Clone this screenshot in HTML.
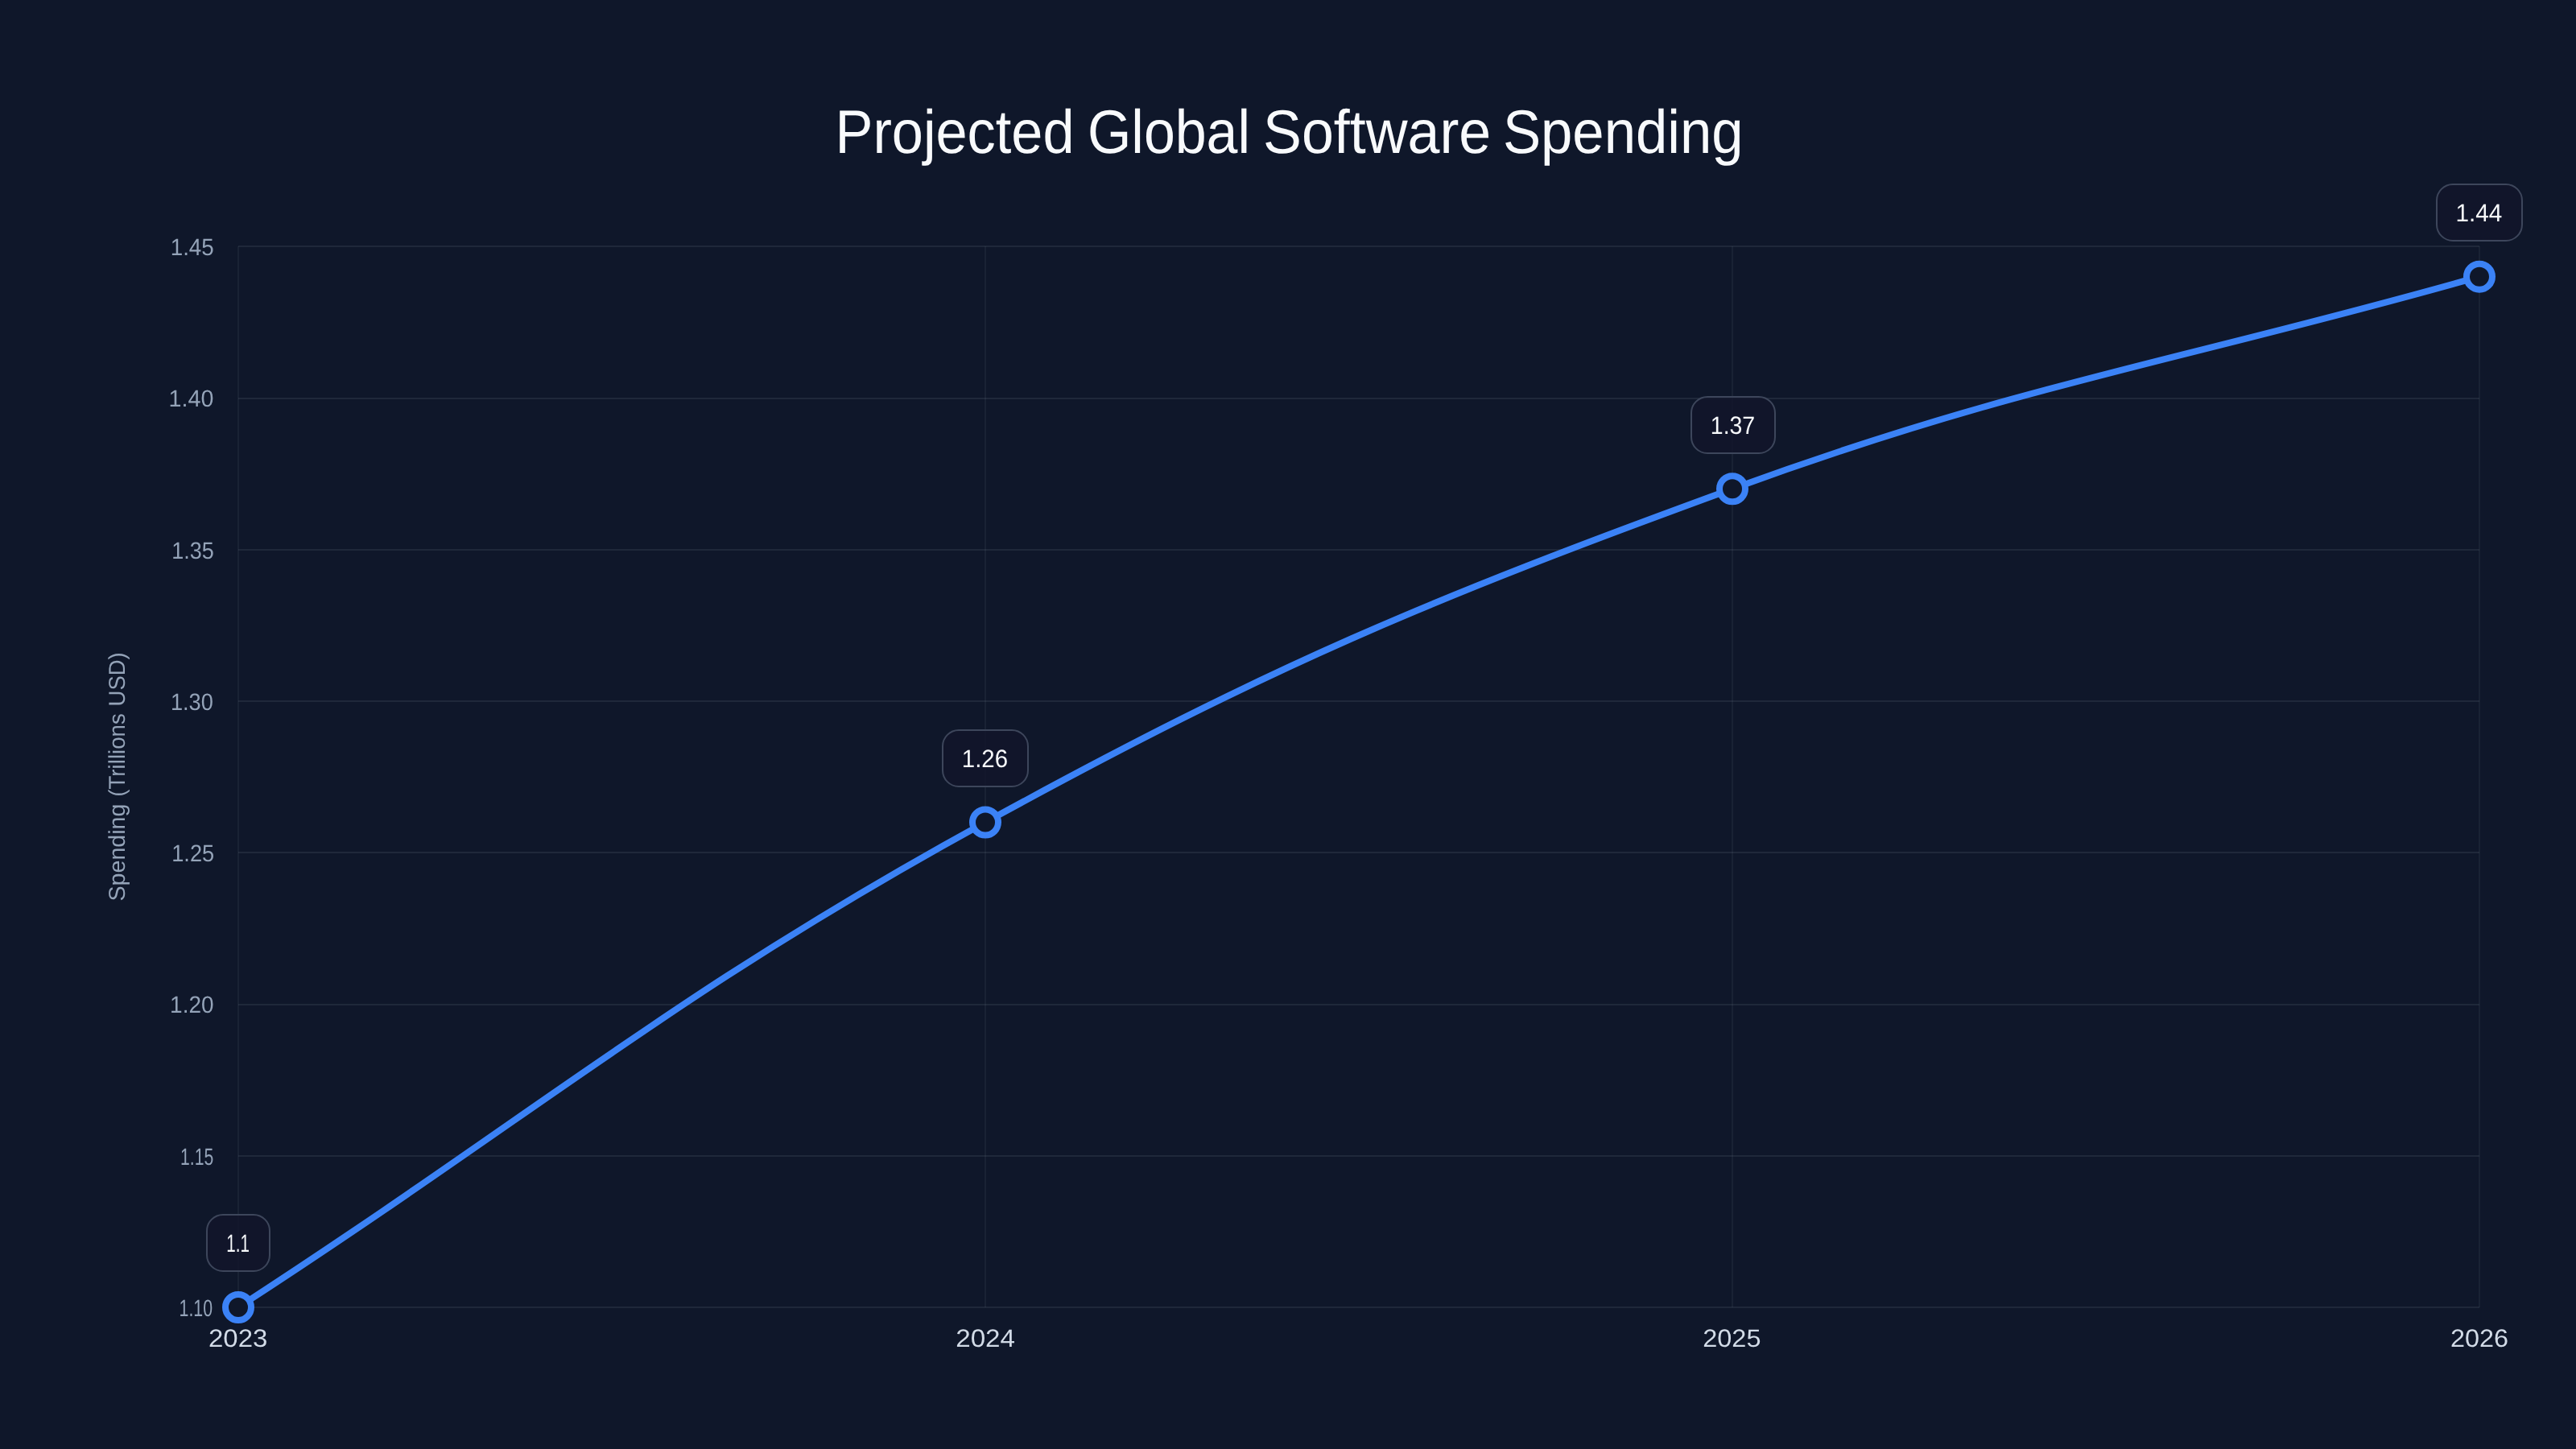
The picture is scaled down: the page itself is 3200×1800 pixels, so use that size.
<!DOCTYPE html>
<html lang="en"><head><meta charset="utf-8"><title>Projected Global Software Spending</title>
<style>
html,body{margin:0;padding:0;width:100%;height:100%;background:#0f172a;overflow:hidden}
svg{display:block;width:100vw;height:100vh;will-change:transform}
text{font-family:"Liberation Sans",sans-serif;text-rendering:geometricPrecision}
</style></head><body>
<svg viewBox="0 0 3200 1800" preserveAspectRatio="xMidYMid meet">
<rect x="0" y="0" width="3200" height="1800" fill="#0f172a"/>
<rect x="296" y="305" width="2784" height="2" fill="rgba(148,163,184,0.12)"/>
<rect x="296" y="494" width="2784" height="2" fill="rgba(148,163,184,0.12)"/>
<rect x="296" y="682" width="2784" height="2" fill="rgba(148,163,184,0.12)"/>
<rect x="296" y="870" width="2784" height="2" fill="rgba(148,163,184,0.12)"/>
<rect x="296" y="1058" width="2784" height="2" fill="rgba(148,163,184,0.12)"/>
<rect x="296" y="1247" width="2784" height="2" fill="rgba(148,163,184,0.12)"/>
<rect x="296" y="1435" width="2784" height="2" fill="rgba(148,163,184,0.12)"/>
<rect x="296" y="1623" width="2784" height="2" fill="rgba(148,163,184,0.12)"/>
<rect x="295" y="306" width="2" height="1318" fill="rgba(148,163,184,0.08)"/>
<rect x="1223" y="306" width="2" height="1318" fill="rgba(148,163,184,0.08)"/>
<rect x="2151" y="306" width="2" height="1318" fill="rgba(148,163,184,0.08)"/>
<rect x="3079" y="306" width="2" height="1318" fill="rgba(148,163,184,0.08)"/>
<g fill="#f8fafc" font-size="76.3">
<text x="1037.5" y="189.7" textLength="297.0" lengthAdjust="spacingAndGlyphs">Projected</text>
<text x="1351.0" y="189.7" textLength="202.0" lengthAdjust="spacingAndGlyphs">Global</text>
<text x="1569.0" y="189.7" textLength="283.3" lengthAdjust="spacingAndGlyphs">Software</text>
<text x="1866.9" y="189.7" textLength="298.7" lengthAdjust="spacingAndGlyphs">Spending</text>
</g>
<g fill="#94a3b8" font-size="28.5">
<text transform="translate(154.5 1119.6) rotate(-90)" textLength="121.1" lengthAdjust="spacingAndGlyphs">Spending</text>
<text transform="translate(154.5 989.8) rotate(-90)" textLength="103.7" lengthAdjust="spacingAndGlyphs">(Trillions</text>
<text transform="translate(154.5 877.4) rotate(-90)" textLength="67.1" lengthAdjust="spacingAndGlyphs">USD)</text>
</g>
<g fill="#94a3b8" font-size="29.5">
<text x="211.7" y="317.0" textLength="54.1" lengthAdjust="spacingAndGlyphs">1.45</text>
<text x="209.6" y="505.3" textLength="55.8" lengthAdjust="spacingAndGlyphs">1.40</text>
<text x="213.2" y="693.6" textLength="52.6" lengthAdjust="spacingAndGlyphs">1.35</text>
<text x="211.9" y="881.9" textLength="53.0" lengthAdjust="spacingAndGlyphs">1.30</text>
<text x="213.2" y="1070.1" textLength="53.0" lengthAdjust="spacingAndGlyphs">1.25</text>
<text x="211.1" y="1258.4" textLength="54.5" lengthAdjust="spacingAndGlyphs">1.20</text>
<text x="224.1" y="1446.7" textLength="41.2" lengthAdjust="spacingAndGlyphs">1.15</text>
<text x="222.5" y="1635.0" textLength="41.6" lengthAdjust="spacingAndGlyphs">1.10</text>
</g>
<g fill="#d2dbe7" font-size="31">
<text x="259.0" y="1673.4" textLength="73.4" lengthAdjust="spacingAndGlyphs">2023</text>
<text x="1187.2" y="1673.4" textLength="73.8" lengthAdjust="spacingAndGlyphs">2024</text>
<text x="2115.2" y="1673.4" textLength="72.3" lengthAdjust="spacingAndGlyphs">2025</text>
<text x="3044.0" y="1673.4" textLength="72.1" lengthAdjust="spacingAndGlyphs">2026</text>
</g>
<path d="M296.00 1624.00 C667.20 1382.99 837.03 1233.47 1224.00 1021.49 C1579.43 826.78 1771.14 746.35 2152.00 607.26 C2513.54 475.22 2708.80 449.10 3080.00 343.66" fill="none" stroke="#3b82f6" stroke-width="8" stroke-linecap="butt" stroke-linejoin="round"/>
<circle cx="296.00" cy="1624.00" r="16" fill="#0f172a" stroke="#3b82f6" stroke-width="8"/>
<circle cx="1224.00" cy="1021.49" r="16" fill="#0f172a" stroke="#3b82f6" stroke-width="8"/>
<circle cx="2152.00" cy="607.26" r="16" fill="#0f172a" stroke="#3b82f6" stroke-width="8"/>
<circle cx="3080.00" cy="343.66" r="16" fill="#0f172a" stroke="#3b82f6" stroke-width="8"/>
<rect x="257.0" y="1509.0" width="78.0" height="70.0" rx="20" ry="20" fill="#11152a" fill-opacity="0.8" stroke="#3d465b" stroke-width="2"/>
<text x="281.3" y="1554.8" fill="#f8fafc" font-size="31" textLength="28.7" lengthAdjust="spacingAndGlyphs">1.1</text>
<rect x="1171.0" y="907.0" width="106.0" height="70.0" rx="20" ry="20" fill="#11152a" fill-opacity="0.8" stroke="#3d465b" stroke-width="2"/>
<text x="1194.8" y="952.8" fill="#f8fafc" font-size="31" textLength="57.2" lengthAdjust="spacingAndGlyphs">1.26</text>
<rect x="2101.0" y="493.0" width="104.0" height="70.0" rx="20" ry="20" fill="#11152a" fill-opacity="0.8" stroke="#3d465b" stroke-width="2"/>
<text x="2124.8" y="538.8" fill="#f8fafc" font-size="31" textLength="55.4" lengthAdjust="spacingAndGlyphs">1.37</text>
<rect x="3027.0" y="229.0" width="106.0" height="70.0" rx="20" ry="20" fill="#11152a" fill-opacity="0.8" stroke="#3d465b" stroke-width="2"/>
<text x="3050.4" y="274.8" fill="#f8fafc" font-size="31" textLength="57.8" lengthAdjust="spacingAndGlyphs">1.44</text>
</svg>
</body></html>
